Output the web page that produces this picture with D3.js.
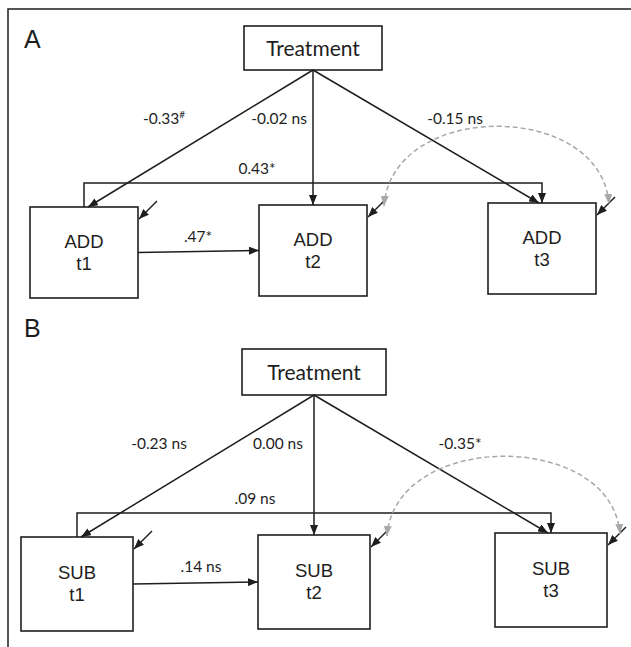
<!DOCTYPE html>
<html>
<head>
<meta charset="utf-8">
<script src="https://cdn.jsdelivr.net/npm/d3@7"></script>
<style>
  body { margin: 0; background: #fff; }
  svg { display: block; font-family: "Liberation Sans", Arial, sans-serif; }
  .cal { font-family: Lato, "Open Sans", sans-serif; }
</style>
</head>
<body>
<script>
// Data
const panelLabels = ["A", "B"];
const constructs = ["ADD", "SUB"];
const waves = ["t1", "t2", "t3"];
const treatmentCoef = [["-0.33", "-0.02", "-0.15"], ["-0.23", "0.00", "-0.35"]];
const treatmentSig = [["#", "ns", "ns"], ["ns", "ns", "*"]];
const stabilityLabels = ["0.43*", ".09 ns"];   // t1 -> t3
const lagLabels = [".47*", ".14 ns"];          // t1 -> t2

// Layout (pixels)
const layout = [
  { letterY: 48, treatY: 26, treatW: 138, treatH: 44, xRange: [84, 542], boxTop: 207, boxW: 108, boxH: 91, bracketY: 183,
    coefX: [164, 279, 455], stabX: 257, lagX: 198 },
  { letterY: 337, treatY: 349, treatW: 144, treatH: 46, xRange: [77, 551], boxTop: 537, boxW: 112, boxH: 94, bracketY: 513,
    coefX: [159, 278, 460], stabX: 255, lagX: 201 }
]
const tipShift = [4, 0, -3]
const ink = "#1e1e1e", grey = "#a8a8a8"

const svg = d3.select("body").append("svg")
    .attr("width", 631)
    .attr("height", 647)

svg.append("defs").selectAll("marker")
    .data([{id: "head", c: ink}, {id: "headGrey", c: grey}])
    .join("marker")
    .attr("id", d => d.id)
    .attr("viewBox", "0 0 10 8")
    .attr("refX", 10)
    .attr("refY", 4)
    .attr("markerWidth", 10)
    .attr("markerHeight", 8)
    .attr("markerUnits", "userSpaceOnUse")
    .attr("orient", "auto-start-reverse")
    .append("path")
    .attr("d", "M0,0L10,4L0,8Z")
    .attr("fill", d => d.c)

// frame
svg.append("path")
    .attr("d", "M8,647V9H631")
    .attr("fill", "none")
    .attr("stroke", ink)
    .attr("stroke-width", 1.5)

panelLabels.forEach((p, k) => drawPanel(k))

function drawPanel(k){
    const L = layout[k]
    const g = svg.append("g")
    const x = d3.scalePoint().domain(waves).range(L.xRange)
    const top = w => L.boxTop - 2*waves.indexOf(w)
    const cx = x("t2")
    const treatBottom = L.treatY + L.treatH

    g.append("text")
        .attr("x", 24).attr("y", L.letterY)
        .attr("font-size", 25).attr("fill", ink)
        .text(panelLabels[k])

    // boxes
    g.append("rect")
        .attr("x", cx - L.treatW/2).attr("y", L.treatY)
        .attr("width", L.treatW).attr("height", L.treatH)
        .attr("fill", "white").attr("stroke", ink).attr("stroke-width", 1.6)
    g.append("text").attr("class", "cal")
        .attr("x", cx).attr("y", L.treatY + L.treatH/2 + 7.5)
        .attr("text-anchor", "middle").attr("font-size", 21).attr("fill", ink)
        .text("Treatment")

    const boxes = g.selectAll(".box").data(waves).join("g").attr("class", "box")
    boxes.append("rect")
        .attr("x", w => x(w) - L.boxW/2).attr("y", w => top(w))
        .attr("width", L.boxW).attr("height", L.boxH)
        .attr("fill", "white").attr("stroke", ink).attr("stroke-width", 1.6)
    boxes.append("text")
        .attr("x", w => x(w)).attr("y", w => top(w) + L.boxH/2 - 5)
        .attr("text-anchor", "middle").attr("font-size", 18.5).attr("fill", ink)
        .text(constructs[k])
    boxes.append("text")
        .attr("x", w => x(w)).attr("y", w => top(w) + L.boxH/2 + 17)
        .attr("text-anchor", "middle").attr("font-size", 18.5).attr("fill", ink)
        .text(w => w)

    // treatment paths
    g.selectAll(".treat").data(waves).join("line")
        .attr("x1", cx).attr("y1", treatBottom)
        .attr("x2", (w, i) => x(w) + tipShift[i]).attr("y2", w => top(w))
        .attr("stroke", ink).attr("stroke-width", 1.5)
        .attr("marker-end", "url(#head)")

    const lab = g.selectAll(".coef").data(waves).join("text").attr("class", "cal")
        .attr("x", (w, i) => L.coefX[i]).attr("y", treatBottom + 54)
        .attr("text-anchor", "middle").attr("font-size", 15.5).attr("fill", ink)
    lab.append("tspan").text((w, i) => treatmentCoef[k][i] + (treatmentSig[k][i] == "ns" ? " ns" : treatmentSig[k][i] == "*" ? "*" : ""))
    lab.filter((w, i) => treatmentSig[k][i] == "#").append("tspan")
        .attr("dy", -6).attr("font-size", 10).text("#")

    // stability path t1 -> t3
    g.append("path")
        .attr("d", `M${x("t1")},${top("t1")}V${L.bracketY}H${x("t3")}V${top("t3")}`)
        .attr("fill", "none").attr("stroke", ink).attr("stroke-width", 1.5)
        .attr("marker-end", "url(#head)")
    g.append("text").attr("class", "cal")
        .attr("x", L.stabX).attr("y", L.bracketY - 9)
        .attr("text-anchor", "middle").attr("font-size", 15.5).attr("fill", ink)
        .text(stabilityLabels[k])

    // lag path t1 -> t2
    g.append("line")
        .attr("x1", x("t1") + L.boxW/2).attr("y1", top("t1") + L.boxH/2)
        .attr("x2", x("t2") - L.boxW/2).attr("y2", top("t2") + L.boxH/2)
        .attr("stroke", ink).attr("stroke-width", 1.5)
        .attr("marker-end", "url(#head)")
    g.append("text").attr("class", "cal")
        .attr("x", L.lagX).attr("y", top("t1") + 35)
        .attr("text-anchor", "middle").attr("font-size", 15.5).attr("fill", ink)
        .text(lagLabels[k])

    // residual arrows
    g.selectAll(".resid").data(waves).join("line")
        .attr("x1", w => x(w) + L.boxW/2 + 19).attr("y1", w => top(w) - 6)
        .attr("x2", w => x(w) + L.boxW/2 + 1).attr("y2", w => top(w) + 12)
        .attr("stroke", ink).attr("stroke-width", 1.5)
        .attr("marker-end", "url(#head)")

    // residual covariance t2 <-> t3
    const x0 = x("t2") + L.boxW/2 + 17, y0 = top("t2") + 1
    const x3 = x("t3") + L.boxW/2 + 13, y3 = top("t3") + 1
    const c = Math.min(y0, y3) - 104
    g.append("path")
        .attr("d", `M${x0},${y0}C${x0 + 8},${c} ${x3 - 8},${c} ${x3},${y3}`)
        .attr("fill", "none").attr("stroke", grey).attr("stroke-width", 1.5)
        .attr("stroke-dasharray", "5,3")
        .attr("marker-start", "url(#headGrey)")
        .attr("marker-end", "url(#headGrey)")
}
</script>
</body>
</html>
